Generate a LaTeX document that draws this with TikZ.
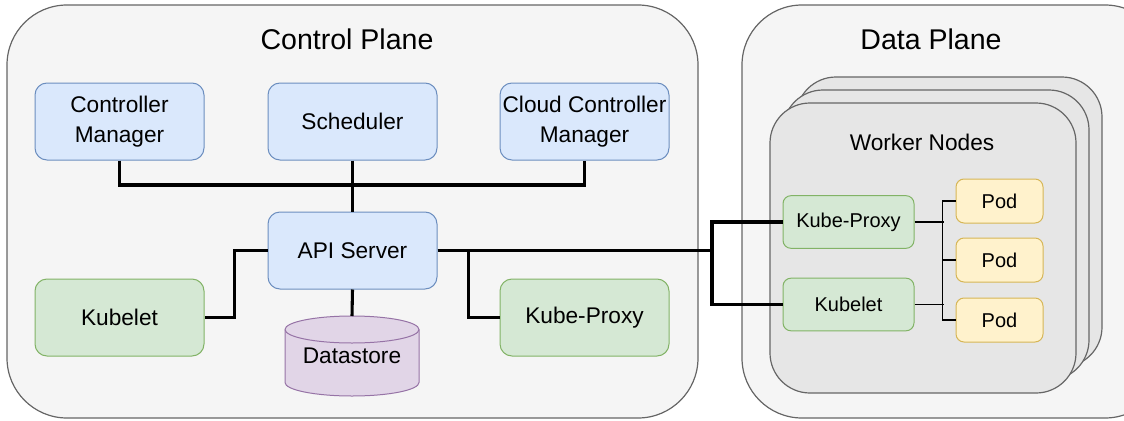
\documentclass[tikz,border=0pt]{standalone}
\usepackage{fontspec}
\setmainfont{Liberation Sans}

\definecolor{planefill}{HTML}{F5F5F5}
\definecolor{planeline}{HTML}{666666}
\definecolor{workerfill}{HTML}{E6E6E6}
\definecolor{bluefill}{HTML}{DAE8FC}
\definecolor{blueline}{HTML}{6C8EBF}
\definecolor{greenfill}{HTML}{D5E8D4}
\definecolor{greenline}{HTML}{82B366}
\definecolor{purplefill}{HTML}{E1D5E7}
\definecolor{purpleline}{HTML}{9673A6}
\definecolor{podfill}{HTML}{FFF2CC}
\definecolor{podline}{HTML}{D6B656}

\tikzset{
  plane/.style={draw=planeline, fill=planefill, line width=0.9pt, rounded corners=45pt},
  workerbox/.style={draw=planeline, fill=workerfill, line width=0.9pt, rounded corners=30pt},
  title/.style={font=\fontsize{21.4}{25}\selectfont},
  comp/.style={rounded corners=9pt, line width=0.75pt, inner sep=0pt, align=center,
    minimum width=126.75pt, minimum height=57.75pt, font=\fontsize{17}{22.5}\selectfont},
  bluebox/.style={comp, draw=blueline, fill=bluefill},
  greenbox/.style={comp, draw=greenline, fill=greenfill},
  wcomp/.style={rounded corners=6pt, line width=0.75pt, inner sep=0pt, align=center,
    font=\fontsize{15}{18}\selectfont},
  wgreen/.style={wcomp, draw=greenline, fill=greenfill, minimum width=98.25pt, minimum height=39.5pt},
  podbox/.style={wcomp, draw=podline, fill=podfill, minimum width=65.25pt, minimum height=33pt},
  wire/.style={draw=black, line width=2.3pt},
  thinwire/.style={draw=black, line width=1.4pt},
}

\begin{document}
\begin{tikzpicture}[x=0.75pt, y=-0.75pt]
\useasboundingbox (0,0) rectangle (1124,421);

% the two planes
\draw[plane] (7,5) rectangle (698,418);
\draw[plane] (742,5) rectangle (1165,418);
\node[title] (cptitle) at (347,39) {Control Plane};
\node[title] (dptitle) at (931,39) {Data Plane};

% control plane components
\node[bluebox] (cm)  at (119.5,121.5) {Controller\\Manager};
\node[bluebox] (sch) at (352.5,121.5) {Scheduler};
\node[bluebox] (ccm) at (584.5,121.5) {Cloud Controller\\Manager};
\node[bluebox] (api) at (352.5,250.5) {API Server};
\node[greenbox] (kubelet) at (119.5,317.5) {Kubelet};
\node[greenbox] (kproxy)  at (584.5,317.5) {Kube-Proxy};

% datastore cylinder
\path[fill=purplefill] (285,329.5) -- (285,382.5)
  arc[start angle=180, end angle=360, x radius=50.25pt, y radius=10.125pt]
  -- (419,329.5)
  arc[start angle=0, end angle=180, x radius=50.25pt, y radius=10.125pt] -- cycle;
\draw[purpleline, line width=0.75pt] (285,329.5) -- (285,382.5)
  arc[start angle=180, end angle=360, x radius=50.25pt, y radius=10.125pt]
  -- (419,329.5)
  arc[start angle=0, end angle=180, x radius=50.25pt, y radius=10.125pt] -- cycle;
\draw[purpleline, line width=0.75pt] (285,329.5)
  arc[start angle=180, end angle=360, x radius=50.25pt, y radius=10.125pt];
\node[font=\fontsize{17}{20}\selectfont] (ds) at (352,356) {Datastore};
\coordinate (dstop) at (352,316);

% worker node stack
\draw[workerbox] (796,77) rectangle (1102,367);
\draw[workerbox] (783,90) rectangle (1089,380);
\draw[workerbox] (770,103) rectangle (1076,393);
\node[font=\fontsize{17}{20}\selectfont] (wntitle) at (922,142) {Worker Nodes};

\node[wgreen] (wkp) at (848.5,222) {Kube-Proxy};
\node[wgreen] (wkl) at (848.5,304.5) {Kubelet};
\node[podbox] (pod1) at (999.5,201) {Pod};
\node[podbox] (pod2) at (999.5,260) {Pod};
\node[podbox] (pod3) at (999.5,320) {Pod};

% control plane wiring
\coordinate (topbus) at (352.5,185);
\draw[wire] (cm.south) |- (topbus) -| (ccm.south);
\draw[wire] (sch.south) -- (api.north);
\draw[wire] (api.west) -- ++(-33,0) |- (kubelet.east);
\draw[wire] (api.east) -- ++(31,0) |- (kproxy.west);
\draw[wire] (api.south) -- (dstop);

% link to the worker nodes
\coordinate (split) at (712,250.5);
\draw[wire] (api.east) -- (split);
\draw[wire] (split) |- (wkp.west);
\draw[wire] (split) |- (wkl.west);

% pod wiring inside the worker node
\draw[thinwire] (pod1.west) -- ++(-13,0) |- (pod3.west);
\draw[thinwire] (pod2.west) -- ++(-13,0);
\draw[thinwire] (wkp.east) -- ++(29,0);
\draw[thinwire] (wkl.east) -- ++(29,0);
\end{tikzpicture}
\end{document}
